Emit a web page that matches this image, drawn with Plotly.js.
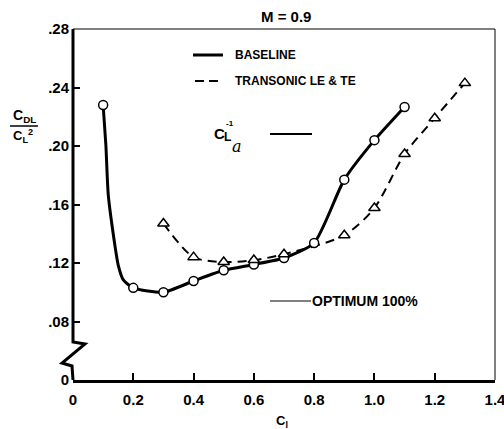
<!DOCTYPE html>
<html>
<head>
<meta charset="utf-8">
<script src="https://cdn.plot.ly/plotly-3.0.1.min.js"></script>
<style>html,body{margin:0;padding:0;background:#fff;}#chart{width:504px;height:429px;}</style>
</head>
<body>
<div id="chart"></div>
<script>
// Data
const baselineX = [0.1, 0.2, 0.3, 0.4, 0.5, 0.6, 0.7, 0.8, 0.9, 1.0, 1.1];
const baselineY = [0.228, 0.103, 0.100, 0.1077, 0.115, 0.119, 0.1234, 0.1337, 0.177, 0.204, 0.2267];
// points read along the steep drawn part of the baseline curve (between 0.1 and 0.2)
const baselineLeadX = [0.109, 0.117, 0.134, 0.150, 0.167];
const baselineLeadY = [0.2007, 0.1665, 0.1391, 0.1186, 0.1084];
const transX = [0.3, 0.4, 0.5, 0.6, 0.7, 0.9, 1.0, 1.1, 1.2, 1.3];
const transY = [0.147, 0.124, 0.1207, 0.122, 0.126, 0.139, 0.1576, 0.1945, 0.219, 0.243];
const yTickVals = [0.04, 0.08, 0.12, 0.16, 0.20, 0.24, 0.28];
const yTickText = ['0', '.08', '.12', '.16', '.20', '.24', '.28'];
const xTickVals = [0, 0.2, 0.4, 0.6, 0.8, 1.0, 1.2, 1.4];
const xTickText = ['0', '0.2', '0.4', '0.6', '0.8', '1.0', '1.2', '1.4'];

const curveX = [baselineX[0]].concat(baselineLeadX, baselineX.slice(1));
const curveY = [baselineY[0]].concat(baselineLeadY, baselineY.slice(1));

const FONT = 'Liberation Sans, Arial, sans-serif';
const traces = [
  {x: curveX, y: curveY, mode: 'lines', line: {color: '#000', width: 3, shape: 'spline', smoothing: 0.6}, hoverinfo: 'skip'},
  {x: transX, y: transY, mode: 'lines', line: {color: '#000', width: 2, dash: '9px,6px', shape: 'spline', smoothing: 0.8}, hoverinfo: 'skip'},
  {x: baselineX, y: baselineY, mode: 'markers', marker: {symbol: 'circle', size: 9, color: '#fff', line: {color: '#000', width: 1.5}}},
  {x: transX, y: transY, mode: 'markers', marker: {symbol: 'triangle-up', size: 10, color: '#fff', line: {color: '#000', width: 1.5}}}
];

const px = v => (v - 73) / 422;      // pixel x -> paper
const py = v => (380 - v) / 351;     // pixel y -> paper

const bold = (t) => '<b>' + t + '</b>';
const ann = (x, y, text, size, extra) => Object.assign({xref: 'paper', yref: 'paper', x: px(x), y: py(y), xanchor: 'center', yanchor: 'middle', text: text, showarrow: false, font: {family: FONT, size: size, color: '#000'}}, extra || {});

const layout = {
  width: 504, height: 429,
  margin: {l: 73, r: 9, t: 29, b: 49},
  paper_bgcolor: '#fff', plot_bgcolor: '#fff',
  showlegend: false,
  font: {family: FONT, color: '#000'},
  xaxis: {
    range: [0, 1.4], tickvals: xTickVals, ticktext: xTickText.map(bold),
    showgrid: false, zeroline: false, showline: true, linecolor: '#000', linewidth: 3,
    ticks: 'inside', ticklen: 7, tickwidth: 2, tickcolor: '#000',
    ticklabeloverflow: 'allow', ticklabelstandoff: 4,
    tickfont: {family: FONT, size: 15, color: '#000'}
  },
  yaxis: {
    range: [0.04, 0.28], tickvals: yTickVals, ticktext: yTickText.map(bold),
    showgrid: false, zeroline: false, showline: false,
    ticks: 'inside', ticklen: 7, tickwidth: 2, tickcolor: '#000',
    ticklabelstandoff: 3,
    tickfont: {family: FONT, size: 15, color: '#000'}
  },
  shapes: [
    // left axis with break
    {type: 'path', xref: 'paper', yref: 'paper',
     path: 'M 0 1 L 0 ' + py(342) + ' L ' + px(85) + ' ' + py(344) + ' L ' + px(62) + ' ' + py(363) + ' L ' + px(72) + ' ' + py(366) + ' L 0 0',
     line: {color: '#000', width: 3}},
    // top and right thin borders
    {type: 'line', xref: 'paper', yref: 'paper', x0: 0, x1: 1, y0: 1, y1: 1, line: {color: '#000', width: 1}},
    {type: 'line', xref: 'paper', yref: 'paper', x0: 1, x1: 1, y0: 0, y1: 1, line: {color: '#000', width: 1}},
    // legend lines
    {type: 'line', xref: 'paper', yref: 'paper', x0: px(193), x1: px(223), y0: py(55), y1: py(55), line: {color: '#000', width: 3}},
    {type: 'line', xref: 'paper', yref: 'paper', x0: px(195), x1: px(223), y0: py(81), y1: py(81), line: {color: '#000', width: 2, dash: '9px,5px'}},
    // C_L alpha line
    {type: 'line', xref: 'paper', yref: 'paper', x0: px(270), x1: px(312), y0: py(134), y1: py(134), line: {color: '#000', width: 2}},
    // optimum line
    {type: 'line', xref: 'paper', yref: 'paper', x0: px(270), x1: px(311), y0: py(301), y1: py(301), line: {color: '#000', width: 1}},
    // y title fraction bar
    {type: 'line', xref: 'paper', yref: 'paper', x0: px(10), x1: px(38), y0: py(126), y1: py(126), line: {color: '#000', width: 1.5}}
  ],
  annotations: [
    ann(286, 17, bold('M = 0.9'), 15),
    ann(233, 55, bold('BASELINE'), 12, {xanchor: 'left'}),
    ann(233, 81, bold('TRANSONIC LE &amp; TE'), 12, {xanchor: 'left'}),
    ann(310, 301, bold('OPTIMUM 100%'), 14, {xanchor: 'left'}),
    ann(219, 133, bold('C'), 15),
    ann(227, 137, bold('L'), 12),
    ann(230, 123, bold('-1'), 8),
    ann(237, 146, '<i>a</i>', 16, {font: {family: 'DejaVu Serif, serif', size: 16, color: '#000'}}),
    ann(24, 116, bold('C<sub>DL</sub>'), 14),
    ann(23, 136, bold('C<sub>L</sub><sup>2</sup>'), 13),
    ann(282, 421, bold('C<sub>l</sub>'), 13)
  ]
};

Plotly.newPlot('chart', traces, layout, {displayModeBar: false, staticPlot: true});
</script>
</body>
</html>
